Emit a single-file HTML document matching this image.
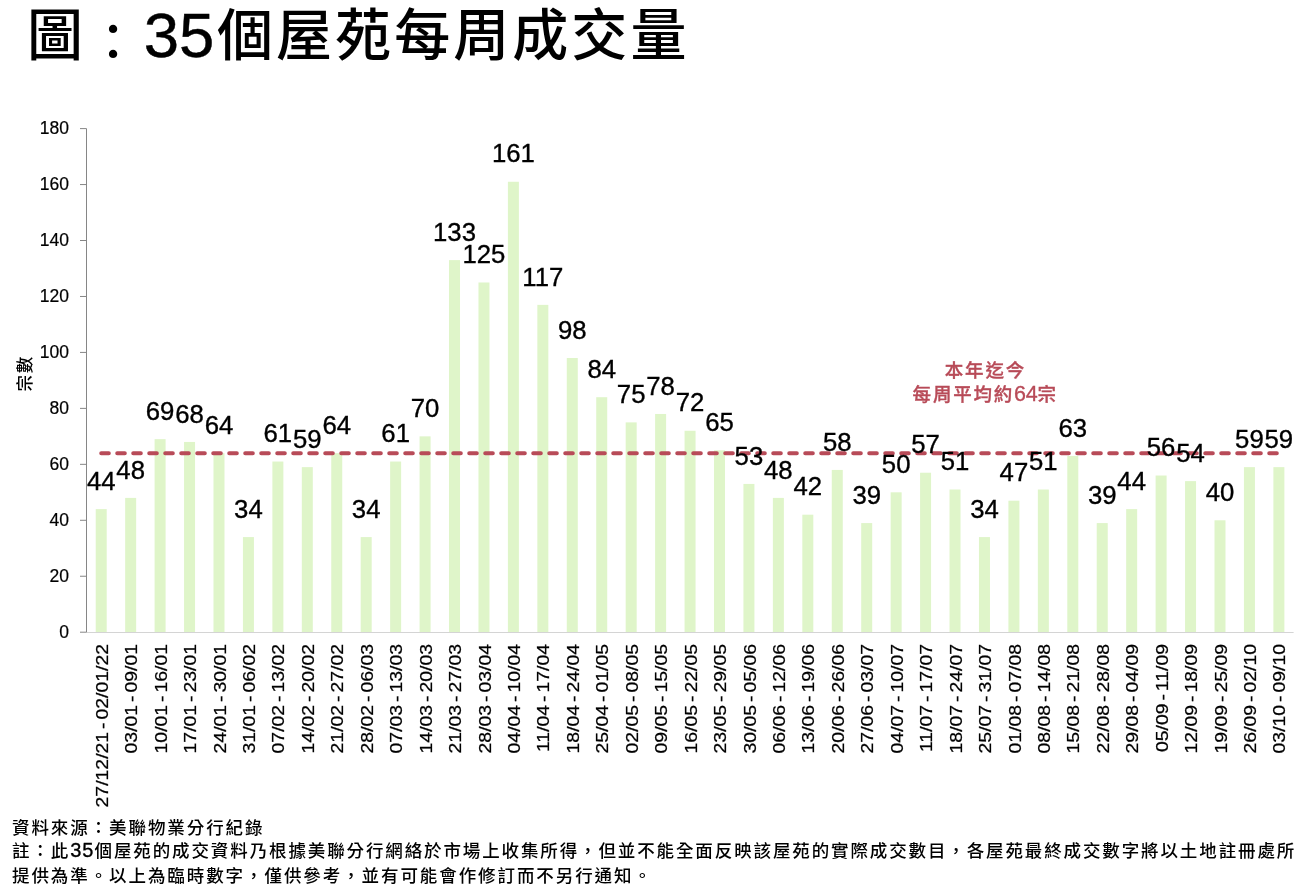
<!DOCTYPE html>
<html><head><meta charset="utf-8"><title>35個屋苑每周成交量</title>
<style>
html,body{margin:0;padding:0;background:#fff;}
body{width:1310px;height:896px;position:relative;overflow:hidden;}
.t{position:absolute;font-family:"Liberation Sans","Noto Sans CJK TC",sans-serif;font-weight:500;font-size:56px;line-height:70px;color:#000;white-space:nowrap;}
svg text{font-family:"Liberation Sans","Noto Sans CJK TC",sans-serif;fill:#000;}
.yl{font-size:17.5px;stroke:#000;stroke-width:0.2px;}
.dl{font-size:25px;stroke:#000;stroke-width:0.35px;}
.xl{font-size:17px;stroke:#000;stroke-width:0.25px;word-spacing:-2.2px;}
.yt{font-size:16.5px;font-weight:500;letter-spacing:1.8px;font-family:"Liberation Sans","Noto Sans CJK TC",sans-serif;}
.an{position:absolute;font-family:"Liberation Sans","Noto Sans CJK TC",sans-serif;font-weight:500;-webkit-text-stroke:0.35px #B84B58;font-size:18.5px;line-height:24px;letter-spacing:1.8px;color:#B84B58;white-space:nowrap;}
.f{position:absolute;left:12px;font-family:"Liberation Sans","Noto Sans CJK TC",sans-serif;font-weight:500;font-size:17.5px;line-height:24px;letter-spacing:1.92px;color:#000;white-space:nowrap;}
</style></head>
<body>
<div class="t" style="left:27px;top:1px">圖</div>
<div class="t" style="left:85px;top:8px;transform:scale(0.887);transform-origin:28px 38.5px">：</div>
<div class="t" style="left:143.8px;top:-0.2px;font-size:63.5px;-webkit-text-stroke:0.4px #000">35</div>
<div class="t" style="left:217px;top:1px;letter-spacing:3.06px">個屋苑每周成交量</div>
<div class="f" style="top:815.6px">資料來源：美聯物業分行紀錄</div>
<div class="f" style="top:838.1px;letter-spacing:1.88px">註：此<span style="font-size:20px;letter-spacing:1.1px;-webkit-text-stroke:0.35px #000">35</span>個屋苑的成交資料乃根據美聯分行網絡於市場上收集所得，但並不能全面反映該屋苑的實際成交數目，各屋苑最終成交數字將以土地註冊處所</div>
<div class="f" style="top:863.5px">提供為準。以上為臨時數字，僅供參考，並有可能會作修訂而不另行通知。</div>
<svg width="1310" height="896" viewBox="0 0 1310 896" style="position:absolute;left:0;top:0">
<rect x="95.72" y="509.10" width="11.0" height="123.10" fill="#DFF5C9"/>
<rect x="125.16" y="497.91" width="11.0" height="134.29" fill="#DFF5C9"/>
<rect x="154.60" y="439.15" width="11.0" height="193.05" fill="#DFF5C9"/>
<rect x="184.05" y="441.95" width="11.0" height="190.25" fill="#DFF5C9"/>
<rect x="213.49" y="453.14" width="11.0" height="179.06" fill="#DFF5C9"/>
<rect x="242.93" y="537.08" width="11.0" height="95.12" fill="#DFF5C9"/>
<rect x="272.37" y="461.54" width="11.0" height="170.66" fill="#DFF5C9"/>
<rect x="301.81" y="467.13" width="11.0" height="165.07" fill="#DFF5C9"/>
<rect x="331.25" y="453.14" width="11.0" height="179.06" fill="#DFF5C9"/>
<rect x="360.69" y="537.08" width="11.0" height="95.12" fill="#DFF5C9"/>
<rect x="390.14" y="461.54" width="11.0" height="170.66" fill="#DFF5C9"/>
<rect x="419.58" y="436.36" width="11.0" height="195.84" fill="#DFF5C9"/>
<rect x="449.02" y="260.10" width="11.0" height="372.10" fill="#DFF5C9"/>
<rect x="478.46" y="282.48" width="11.0" height="349.72" fill="#DFF5C9"/>
<rect x="507.90" y="181.76" width="11.0" height="450.44" fill="#DFF5C9"/>
<rect x="537.34" y="304.86" width="11.0" height="327.34" fill="#DFF5C9"/>
<rect x="566.78" y="358.02" width="11.0" height="274.18" fill="#DFF5C9"/>
<rect x="596.23" y="397.19" width="11.0" height="235.01" fill="#DFF5C9"/>
<rect x="625.67" y="422.37" width="11.0" height="209.83" fill="#DFF5C9"/>
<rect x="655.11" y="413.97" width="11.0" height="218.23" fill="#DFF5C9"/>
<rect x="684.55" y="430.76" width="11.0" height="201.44" fill="#DFF5C9"/>
<rect x="713.99" y="450.34" width="11.0" height="181.86" fill="#DFF5C9"/>
<rect x="743.43" y="483.92" width="11.0" height="148.28" fill="#DFF5C9"/>
<rect x="772.87" y="497.91" width="11.0" height="134.29" fill="#DFF5C9"/>
<rect x="802.32" y="514.69" width="11.0" height="117.51" fill="#DFF5C9"/>
<rect x="831.76" y="469.93" width="11.0" height="162.27" fill="#DFF5C9"/>
<rect x="861.20" y="523.09" width="11.0" height="109.11" fill="#DFF5C9"/>
<rect x="890.64" y="492.31" width="11.0" height="139.89" fill="#DFF5C9"/>
<rect x="920.08" y="472.73" width="11.0" height="159.47" fill="#DFF5C9"/>
<rect x="949.52" y="489.51" width="11.0" height="142.69" fill="#DFF5C9"/>
<rect x="978.96" y="537.08" width="11.0" height="95.12" fill="#DFF5C9"/>
<rect x="1008.41" y="500.70" width="11.0" height="131.50" fill="#DFF5C9"/>
<rect x="1037.85" y="489.51" width="11.0" height="142.69" fill="#DFF5C9"/>
<rect x="1067.29" y="455.94" width="11.0" height="176.26" fill="#DFF5C9"/>
<rect x="1096.73" y="523.09" width="11.0" height="109.11" fill="#DFF5C9"/>
<rect x="1126.17" y="509.10" width="11.0" height="123.10" fill="#DFF5C9"/>
<rect x="1155.61" y="475.52" width="11.0" height="156.68" fill="#DFF5C9"/>
<rect x="1185.05" y="481.12" width="11.0" height="151.08" fill="#DFF5C9"/>
<rect x="1214.50" y="520.29" width="11.0" height="111.91" fill="#DFF5C9"/>
<rect x="1243.94" y="467.13" width="11.0" height="165.07" fill="#DFF5C9"/>
<rect x="1273.38" y="467.13" width="11.0" height="165.07" fill="#DFF5C9"/>
<line x1="86.5" y1="632.5" x2="1293.6" y2="632.5" stroke="#D4D4D4" stroke-width="1"/>
<line x1="86.5" y1="128.6" x2="86.5" y2="632.2" stroke="#868686" stroke-width="1"/>
<line x1="80" y1="632.20" x2="86.5" y2="632.20" stroke="#868686" stroke-width="1"/>
<text x="69" y="637.70" text-anchor="end" class="yl">0</text>
<line x1="80" y1="576.24" x2="86.5" y2="576.24" stroke="#868686" stroke-width="1"/>
<text x="69" y="581.74" text-anchor="end" class="yl">20</text>
<line x1="80" y1="520.29" x2="86.5" y2="520.29" stroke="#868686" stroke-width="1"/>
<text x="69" y="525.79" text-anchor="end" class="yl">40</text>
<line x1="80" y1="464.33" x2="86.5" y2="464.33" stroke="#868686" stroke-width="1"/>
<text x="69" y="469.83" text-anchor="end" class="yl">60</text>
<line x1="80" y1="408.38" x2="86.5" y2="408.38" stroke="#868686" stroke-width="1"/>
<text x="69" y="413.88" text-anchor="end" class="yl">80</text>
<line x1="80" y1="352.42" x2="86.5" y2="352.42" stroke="#868686" stroke-width="1"/>
<text x="69" y="357.92" text-anchor="end" class="yl">100</text>
<line x1="80" y1="296.47" x2="86.5" y2="296.47" stroke="#868686" stroke-width="1"/>
<text x="69" y="301.97" text-anchor="end" class="yl">120</text>
<line x1="80" y1="240.51" x2="86.5" y2="240.51" stroke="#868686" stroke-width="1"/>
<text x="69" y="246.01" text-anchor="end" class="yl">140</text>
<line x1="80" y1="184.56" x2="86.5" y2="184.56" stroke="#868686" stroke-width="1"/>
<text x="69" y="190.06" text-anchor="end" class="yl">160</text>
<line x1="80" y1="128.60" x2="86.5" y2="128.60" stroke="#868686" stroke-width="1"/>
<text x="69" y="134.10" text-anchor="end" class="yl">180</text>
<line x1="101.22" y1="453.14" x2="1278.88" y2="453.14" stroke="#B84B58" stroke-width="4" stroke-dasharray="7.6 8.4" stroke-linecap="round"/>
<text transform="translate(101.22,489.80) scale(1.03,1)" text-anchor="middle" class="dl">44</text>
<text transform="translate(130.66,478.61) scale(1.03,1)" text-anchor="middle" class="dl">48</text>
<text transform="translate(160.10,419.85) scale(1.03,1)" text-anchor="middle" class="dl">69</text>
<text transform="translate(189.55,422.65) scale(1.03,1)" text-anchor="middle" class="dl">68</text>
<text transform="translate(218.99,433.84) scale(1.03,1)" text-anchor="middle" class="dl">64</text>
<text transform="translate(248.43,517.78) scale(1.03,1)" text-anchor="middle" class="dl">34</text>
<text transform="translate(277.87,442.24) scale(1.03,1)" text-anchor="middle" class="dl">61</text>
<text transform="translate(307.31,447.83) scale(1.03,1)" text-anchor="middle" class="dl">59</text>
<text transform="translate(336.75,433.84) scale(1.03,1)" text-anchor="middle" class="dl">64</text>
<text transform="translate(366.19,517.78) scale(1.03,1)" text-anchor="middle" class="dl">34</text>
<text transform="translate(395.64,442.24) scale(1.03,1)" text-anchor="middle" class="dl">61</text>
<text transform="translate(425.08,417.06) scale(1.03,1)" text-anchor="middle" class="dl">70</text>
<text transform="translate(454.52,240.80) scale(1.03,1)" text-anchor="middle" class="dl">133</text>
<text transform="translate(483.96,263.18) scale(1.03,1)" text-anchor="middle" class="dl">125</text>
<text transform="translate(513.40,162.46) scale(1.03,1)" text-anchor="middle" class="dl">161</text>
<text transform="translate(542.84,285.56) scale(1.03,1)" text-anchor="middle" class="dl">117</text>
<text transform="translate(572.28,338.72) scale(1.03,1)" text-anchor="middle" class="dl">98</text>
<text transform="translate(601.73,377.89) scale(1.03,1)" text-anchor="middle" class="dl">84</text>
<text transform="translate(631.17,403.07) scale(1.03,1)" text-anchor="middle" class="dl">75</text>
<text transform="translate(660.61,394.67) scale(1.03,1)" text-anchor="middle" class="dl">78</text>
<text transform="translate(690.05,411.46) scale(1.03,1)" text-anchor="middle" class="dl">72</text>
<text transform="translate(719.49,431.04) scale(1.03,1)" text-anchor="middle" class="dl">65</text>
<text transform="translate(748.93,464.62) scale(1.03,1)" text-anchor="middle" class="dl">53</text>
<text transform="translate(778.37,478.61) scale(1.03,1)" text-anchor="middle" class="dl">48</text>
<text transform="translate(807.82,495.39) scale(1.03,1)" text-anchor="middle" class="dl">42</text>
<text transform="translate(837.26,450.63) scale(1.03,1)" text-anchor="middle" class="dl">58</text>
<text transform="translate(866.70,503.79) scale(1.03,1)" text-anchor="middle" class="dl">39</text>
<text transform="translate(896.14,473.01) scale(1.03,1)" text-anchor="middle" class="dl">50</text>
<text transform="translate(925.58,453.43) scale(1.03,1)" text-anchor="middle" class="dl">57</text>
<text transform="translate(955.02,470.21) scale(1.03,1)" text-anchor="middle" class="dl">51</text>
<text transform="translate(984.46,517.78) scale(1.03,1)" text-anchor="middle" class="dl">34</text>
<text transform="translate(1013.91,481.40) scale(1.03,1)" text-anchor="middle" class="dl">47</text>
<text transform="translate(1043.35,470.21) scale(1.03,1)" text-anchor="middle" class="dl">51</text>
<text transform="translate(1072.79,436.64) scale(1.03,1)" text-anchor="middle" class="dl">63</text>
<text transform="translate(1102.23,503.79) scale(1.03,1)" text-anchor="middle" class="dl">39</text>
<text transform="translate(1131.67,489.80) scale(1.03,1)" text-anchor="middle" class="dl">44</text>
<text transform="translate(1161.11,456.22) scale(1.03,1)" text-anchor="middle" class="dl">56</text>
<text transform="translate(1190.55,461.82) scale(1.03,1)" text-anchor="middle" class="dl">54</text>
<text transform="translate(1220.00,500.99) scale(1.03,1)" text-anchor="middle" class="dl">40</text>
<text transform="translate(1249.44,447.83) scale(1.03,1)" text-anchor="middle" class="dl">59</text>
<text transform="translate(1278.88,447.83) scale(1.03,1)" text-anchor="middle" class="dl">59</text>
<text transform="translate(107.82,644.0) rotate(-90) scale(1.143,1)" text-anchor="end" class="xl">27/12/21 - 02/01/22</text>
<text transform="translate(137.26,644.0) rotate(-90) scale(1.143,1)" text-anchor="end" class="xl">03/01 - 09/01</text>
<text transform="translate(166.70,644.0) rotate(-90) scale(1.143,1)" text-anchor="end" class="xl">10/01 - 16/01</text>
<text transform="translate(196.15,644.0) rotate(-90) scale(1.143,1)" text-anchor="end" class="xl">17/01 - 23/01</text>
<text transform="translate(225.59,644.0) rotate(-90) scale(1.143,1)" text-anchor="end" class="xl">24/01 - 30/01</text>
<text transform="translate(255.03,644.0) rotate(-90) scale(1.143,1)" text-anchor="end" class="xl">31/01 - 06/02</text>
<text transform="translate(284.47,644.0) rotate(-90) scale(1.143,1)" text-anchor="end" class="xl">07/02 - 13/02</text>
<text transform="translate(313.91,644.0) rotate(-90) scale(1.143,1)" text-anchor="end" class="xl">14/02 - 20/02</text>
<text transform="translate(343.35,644.0) rotate(-90) scale(1.143,1)" text-anchor="end" class="xl">21/02 - 27/02</text>
<text transform="translate(372.79,644.0) rotate(-90) scale(1.143,1)" text-anchor="end" class="xl">28/02 - 06/03</text>
<text transform="translate(402.24,644.0) rotate(-90) scale(1.143,1)" text-anchor="end" class="xl">07/03 - 13/03</text>
<text transform="translate(431.68,644.0) rotate(-90) scale(1.143,1)" text-anchor="end" class="xl">14/03 - 20/03</text>
<text transform="translate(461.12,644.0) rotate(-90) scale(1.143,1)" text-anchor="end" class="xl">21/03 - 27/03</text>
<text transform="translate(490.56,644.0) rotate(-90) scale(1.143,1)" text-anchor="end" class="xl">28/03 - 03/04</text>
<text transform="translate(520.00,644.0) rotate(-90) scale(1.143,1)" text-anchor="end" class="xl">04/04 - 10/04</text>
<text transform="translate(549.44,644.0) rotate(-90) scale(1.143,1)" text-anchor="end" class="xl">11/04 - 17/04</text>
<text transform="translate(578.88,644.0) rotate(-90) scale(1.143,1)" text-anchor="end" class="xl">18/04 - 24/04</text>
<text transform="translate(608.33,644.0) rotate(-90) scale(1.143,1)" text-anchor="end" class="xl">25/04 - 01/05</text>
<text transform="translate(637.77,644.0) rotate(-90) scale(1.143,1)" text-anchor="end" class="xl">02/05 - 08/05</text>
<text transform="translate(667.21,644.0) rotate(-90) scale(1.143,1)" text-anchor="end" class="xl">09/05 - 15/05</text>
<text transform="translate(696.65,644.0) rotate(-90) scale(1.143,1)" text-anchor="end" class="xl">16/05 - 22/05</text>
<text transform="translate(726.09,644.0) rotate(-90) scale(1.143,1)" text-anchor="end" class="xl">23/05 - 29/05</text>
<text transform="translate(755.53,644.0) rotate(-90) scale(1.143,1)" text-anchor="end" class="xl">30/05 - 05/06</text>
<text transform="translate(784.97,644.0) rotate(-90) scale(1.143,1)" text-anchor="end" class="xl">06/06 - 12/06</text>
<text transform="translate(814.42,644.0) rotate(-90) scale(1.143,1)" text-anchor="end" class="xl">13/06 - 19/06</text>
<text transform="translate(843.86,644.0) rotate(-90) scale(1.143,1)" text-anchor="end" class="xl">20/06 - 26/06</text>
<text transform="translate(873.30,644.0) rotate(-90) scale(1.143,1)" text-anchor="end" class="xl">27/06 - 03/07</text>
<text transform="translate(902.74,644.0) rotate(-90) scale(1.143,1)" text-anchor="end" class="xl">04/07 - 10/07</text>
<text transform="translate(932.18,644.0) rotate(-90) scale(1.143,1)" text-anchor="end" class="xl">11/07 - 17/07</text>
<text transform="translate(961.62,644.0) rotate(-90) scale(1.143,1)" text-anchor="end" class="xl">18/07 - 24/07</text>
<text transform="translate(991.06,644.0) rotate(-90) scale(1.143,1)" text-anchor="end" class="xl">25/07 - 31/07</text>
<text transform="translate(1020.51,644.0) rotate(-90) scale(1.143,1)" text-anchor="end" class="xl">01/08 - 07/08</text>
<text transform="translate(1049.95,644.0) rotate(-90) scale(1.143,1)" text-anchor="end" class="xl">08/08 - 14/08</text>
<text transform="translate(1079.39,644.0) rotate(-90) scale(1.143,1)" text-anchor="end" class="xl">15/08 - 21/08</text>
<text transform="translate(1108.83,644.0) rotate(-90) scale(1.143,1)" text-anchor="end" class="xl">22/08 - 28/08</text>
<text transform="translate(1138.27,644.0) rotate(-90) scale(1.143,1)" text-anchor="end" class="xl">29/08 - 04/09</text>
<text transform="translate(1167.71,644.0) rotate(-90) scale(1.143,1)" text-anchor="end" class="xl">05/09 - 11/09</text>
<text transform="translate(1197.15,644.0) rotate(-90) scale(1.143,1)" text-anchor="end" class="xl">12/09 - 18/09</text>
<text transform="translate(1226.60,644.0) rotate(-90) scale(1.143,1)" text-anchor="end" class="xl">19/09 - 25/09</text>
<text transform="translate(1256.04,644.0) rotate(-90) scale(1.143,1)" text-anchor="end" class="xl">26/09 - 02/10</text>
<text transform="translate(1285.48,644.0) rotate(-90) scale(1.143,1)" text-anchor="end" class="xl">03/10 - 09/10</text>
<text transform="translate(31,391.6) rotate(-90)" class="yt">宗數</text>
</svg>
<div class="an" style="left:944.8px;top:359px">本年迄今</div>
<div class="an" style="left:912.6px;top:382px">每周平均約<span style="font-size:21.5px;letter-spacing:-0.3px">64</span>宗</div>
</body></html>
